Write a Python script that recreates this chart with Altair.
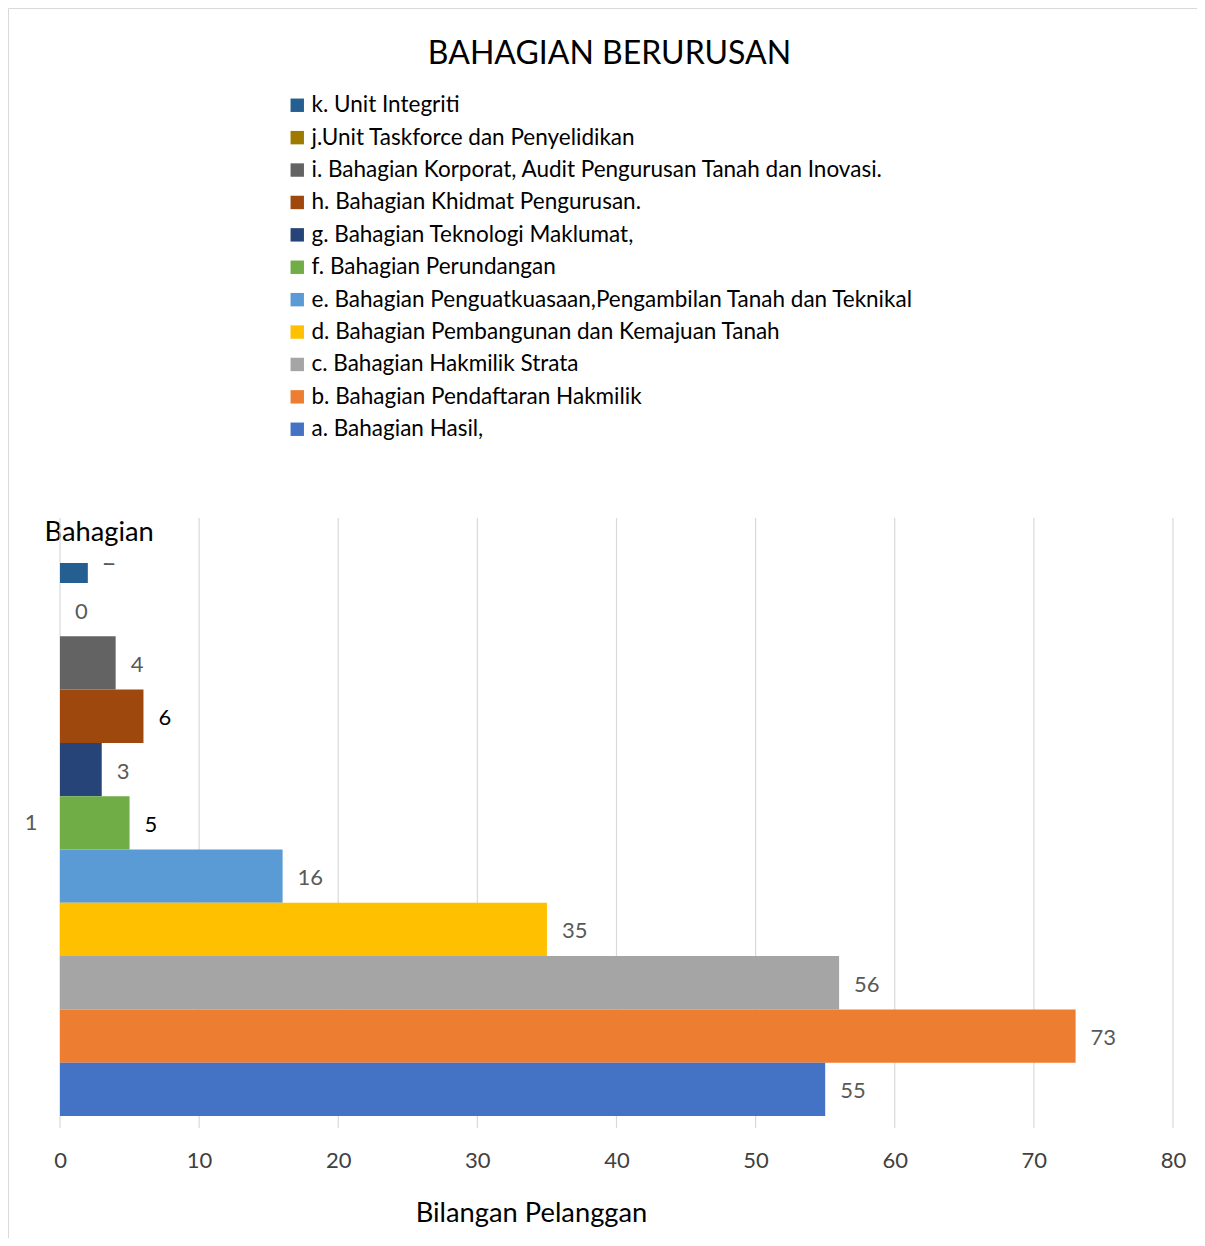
import altair as alt
import pandas as pd

# ---- data ----
series = [
    "k. Unit Integriti",
    "j.Unit Taskforce dan Penyelidikan",
    "i. Bahagian Korporat, Audit Pengurusan Tanah dan Inovasi.",
    "h. Bahagian Khidmat Pengurusan.",
    "\u2002g. Bahagian Teknologi Maklumat,",
    "f. Bahagian Perundangan",
    "\u2002e. Bahagian Penguatkuasaan,Pengambilan Tanah dan Teknikal",
    "d. Bahagian Pembangunan dan Kemajuan Tanah",
    "c. Bahagian Hakmilik Strata",
    "\u2002b. Bahagian Pendaftaran Hakmilik",
    "a. Bahagian Hasil,",
]
values = [2, 0, 4, 6, 3, 5, 16, 35, 56, 73, 55]
colors = ["#255E91", "#9E7A00", "#636363", "#9E480E", "#264478", "#70AD47",
          "#5B9BD5", "#FFC000", "#A5A5A5", "#ED7D31", "#4472C4"]
x_ticks = [0, 10, 20, 30, 40, 50, 60, 70, 80]
category_label = "1"
dark_label_series = ["h. Bahagian Khidmat Pengurusan.", "f. Bahagian Perundangan"]

df = pd.DataFrame({"series": series, "value": values})
df["pos"] = list(range(len(series) - 1, -1, -1))  # category slot, a at bottom
ticks_df = pd.DataFrame({"tick": x_ticks})

W, H = 1113, 565
FONT = "Lato"

xscale = alt.Scale(domain=[0, 80], nice=False, zero=False)
yscale = alt.Scale(domain=[-0.225, 10.375], nice=False, zero=False)

grid = alt.Chart(ticks_df).mark_rule(color="#d9d9d9", strokeWidth=1.2).encode(
    x=alt.X("tick:Q", scale=xscale),
    y=alt.value(-45),
    y2=alt.value(H),
)

bars = alt.Chart(df).transform_calculate(
    hi="datum.pos + 1"
).mark_bar(clip=True, strokeWidth=0).encode(
    x=alt.X("value:Q", scale=xscale,
            axis=alt.Axis(values=x_ticks, grid=False, domain=False, ticks=False,
                          labelFlush=False, labelOverlap=False, labelPadding=22,
                          labelFontSize=22, labelColor="#404040", labelFont=FONT,
                          title="Bilangan Pelanggan", titleX=471, titleY=85,
                          titleAlign="center", titleBaseline="middle",
                          titleFontSize=27.3, titleFontWeight="normal",
                          titleColor="#000000", titleFont=FONT)),
    x2=alt.datum(0),
    y=alt.Y("pos:Q", scale=yscale,
            axis=alt.Axis(values=[5.5], labelExpr=f"'{category_label}'",
                          grid=False, domain=False, ticks=False, labelPadding=23,
                          labelFontSize=22, labelColor="#595959", labelFont=FONT,
                          title="Bahagian", titleAngle=0, titleX=-16, titleY=-31,
                          titleAlign="left", titleBaseline="middle",
                          titleFontSize=27.3, titleFontWeight="normal",
                          titleColor="#000000", titleFont=FONT)),
    y2="hi:Q",
    color=alt.Color("series:N",
                    scale=alt.Scale(domain=series, range=colors),
                    legend=alt.Legend(title=None, orient="none", legendX=226, legendY=-469,
                                      symbolType="square", symbolSize=180,
                                      symbolStrokeWidth=0, symbolOpacity=1,
                                      labelFontSize=22.5, labelFont=FONT,
                                      labelColor="#000000", labelOffset=3,
                                      labelLimit=0, rowPadding=9.4, padding=0)),
)

test = " || ".join([f"datum.series === '{s}'" for s in dark_label_series])
labels = alt.Chart(df).transform_calculate(
    mid="datum.pos + 0.5"
).mark_text(align="left", baseline="middle", dx=15, dy=2, fontSize=22, font=FONT,
            clip=True).encode(
    x=alt.X("value:Q", scale=xscale),
    y=alt.Y("mid:Q", scale=yscale),
    text=alt.Text("value:Q"),
    color=alt.condition(test, alt.value("#000000"), alt.value("#595959")),
)

border = alt.Chart(alt.Data(values=[{}])).mark_rect(
    fillOpacity=0, stroke="#d9d9d9", strokeWidth=1
).encode(
    x=alt.value(-51.5), x2=alt.value(W + 200),
    y=alt.value(-554.5), y2=alt.value(H + 400),
)

chart = alt.layer(grid, bars, labels, border).properties(
    width=W, height=H,
    title=alt.TitleParams("BAHAGIAN BERURUSAN", font=FONT, fontSize=32,
                          fontWeight="normal", color="#000000", anchor="middle",
                          frame="group", offset=0, baseline="middle", dy=78, dx=-7),
    autosize=alt.AutoSizeParams(type="none"),
    padding={"left": 52, "top": 555, "right": 24, "bottom": 110},
).configure(font=FONT).configure_view(stroke=None)

chart.save("out.html", embed_options={"renderer": "svg", "actions": False})
